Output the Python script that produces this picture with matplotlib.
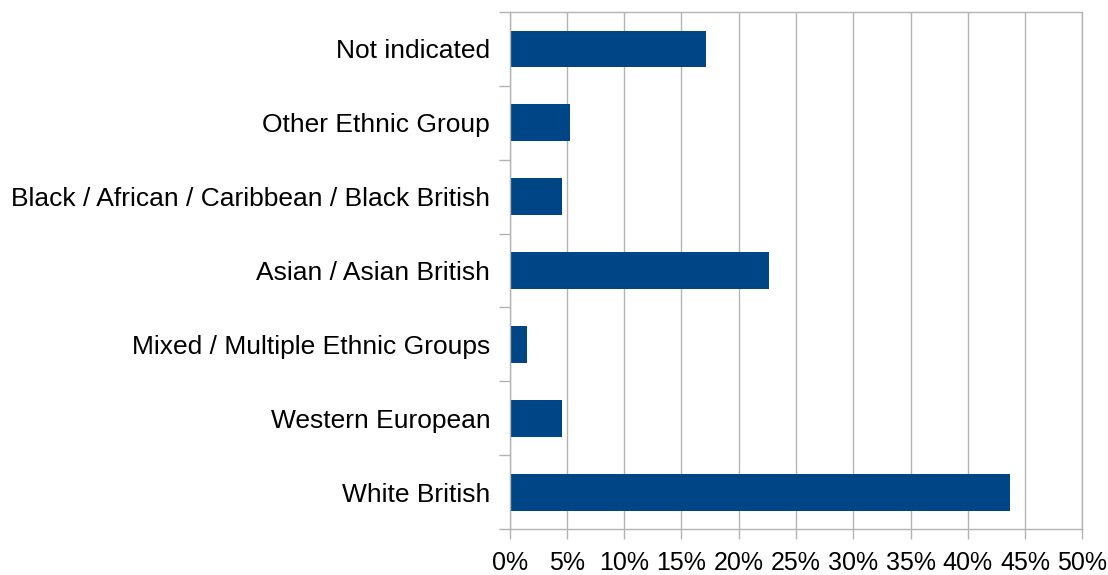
import matplotlib
matplotlib.use("Agg")
import matplotlib.pyplot as plt
import numpy as np
from matplotlib.ticker import FixedLocator

categories = ["White British", "Western European", "Mixed / Multiple Ethnic Groups",
              "Asian / Asian British", "Black / African / Caribbean / Black British",
              "Other Ethnic Group", "Not indicated"]
values = [43.7, 4.6, 1.5, 22.6, 4.6, 5.3, 17.1]
xticks = [0, 5, 10, 15, 20, 25, 30, 35, 40, 45, 50]
xticklabels = [f"{t}%" for t in xticks]

plt.rcParams['font.family'] = ['Liberation Sans', 'DejaVu Sans']
fig = plt.figure(figsize=(11.08, 5.75), dpi=100)
ax = fig.add_axes([0.46, 0.08, 0.5168, 0.899])

grid_c = "#b3b3b3"
y = np.arange(len(categories))
ax.barh(y, values, height=0.5, color="#004586", zorder=3)
ax.set_xlim(0, 50)
ax.set_ylim(-0.5, len(categories) - 0.5)
ax.set_xticks(xticks)
ax.set_xticklabels(xticklabels, fontsize=18)
ax.set_yticks(y)
ax.set_yticklabels(categories, fontsize=19)
ax.yaxis.set_minor_locator(FixedLocator(np.arange(-0.5, len(categories), 1.0)))
ax.tick_params(axis='y', which='major', length=0, pad=14)
ax.tick_params(axis='y', which='minor', length=8, color=grid_c, width=1)
ax.tick_params(axis='x', which='major', length=7.5, color=grid_c, width=1, pad=8.5)
ax.xaxis.grid(True, color=grid_c, linewidth=1, zorder=0)
for s in ax.spines.values():
    s.set_color(grid_c)
    s.set_linewidth(1)
ax.spines['left'].set_zorder(4)

fig.savefig("out.png", dpi=100)
